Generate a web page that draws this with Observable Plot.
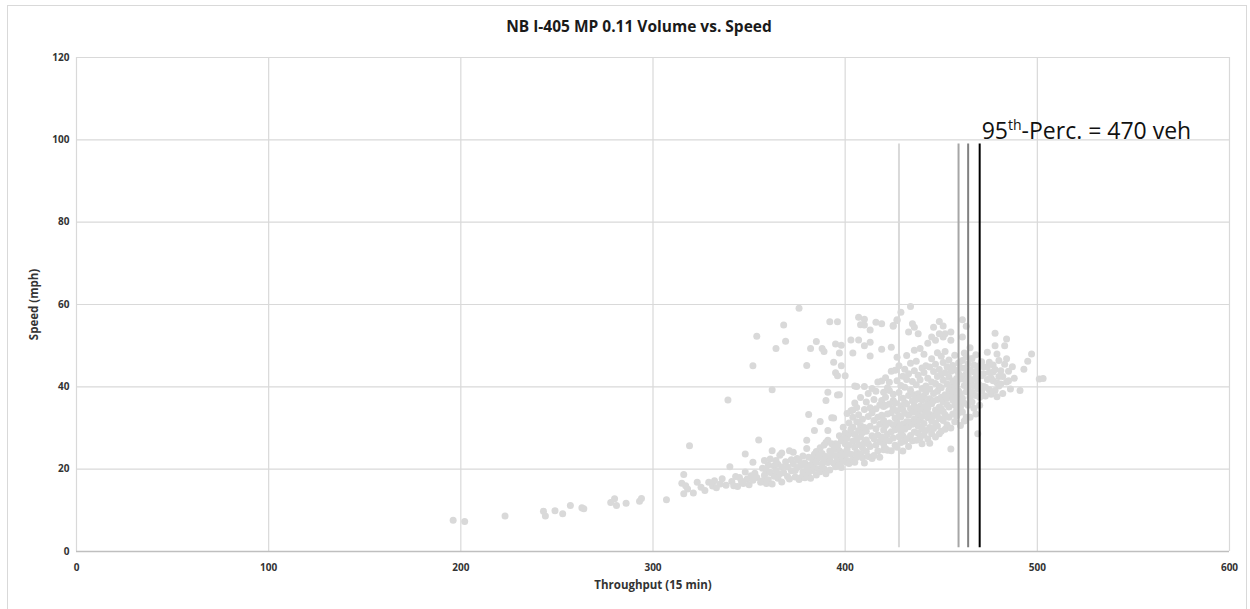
<!DOCTYPE html>
<html>
<head>
<meta charset="utf-8">
<script src="https://cdn.jsdelivr.net/npm/d3@7"></script>
<script src="https://cdn.jsdelivr.net/npm/@observablehq/plot@0.6"></script>
<style>
  html, body { margin: 0; padding: 0; background: #fff; }
  #wrap { position: relative; width: 1250px; height: 609px; overflow: hidden; font-family: "Open Sans", sans-serif; }
  #frame { position: absolute; left: 7px; top: 5px; width: 1240px; height: 620px; border: 1px solid #d9d9d9; box-sizing: border-box; }
  #title { position: absolute; left: 0; top: 15px; width: 1278px; text-align: center; font-size: 15.5px; font-weight: bold; color: #1a1a1a; }
  #chart { position: absolute; left: 0; top: 45px; }
</style>
</head>
<body>
<div id="wrap">
  <div id="frame"></div>
  <div id="title">NB I-405 MP 0.11 Volume vs. Speed</div>
  <div id="chart"></div>
</div>
<script>
// ---- Data (throughput per 15 min, speed mph) ----
const xTicks = [0, 100, 200, 300, 400, 500, 600];
const yTicks = [0, 20, 40, 60, 80, 100, 120];
const xTitle = "Throughput (15 min)";
const yTitle = "Speed (mph)";
const percentileValues = [428, 459, 464, 470];
const annotationLabel = "95th-Perc. = 470 veh";
const annotationValue = 470;

const lowTail = [[196,7.6],[202,7.3],[223,8.6],[243,9.8],[244,8.6],[249,9.9],[253,9.2],[257,11.2],[263,10.6],[264,10.4],[278,11.9],[280,12.8],[281,11.2],[286,11.7],[293,12.2],[294,12.9],[307,12.6],[316,18.7],[317,16],[315,16.6],[318,15.2],[316,14],[319,25.7],[321,14.2],[323,16.8],[325,15.6],[327,14.8],[329,16.8],[332,17.2]];

const band330 = [[331,15.9],[333,15.5],[335,16.4],[336,17.7],[338,16.1],[339,36.8],[340,20.6],[341,17],[342,16],[343,18.2],[344,15.8],[345,18],[346,17.1],[347,16.5],[348,19.3],[348,23.7],[349,17.6],[350,16.2],[351,18.4],[352,21.7],[352,17.3],[352,45.1],[353,19],[354,18],[354,52.3],[355,27.1],[356,16.8],[357,17.2],[357,20.2],[358,22.1],[358,18.5],[359,16.5],[359,19.6],[360,21]];

const band360 = [[360,17.4],[361,19.2],[361,22.5],[362,16.4],[362,24.5],[362,39.3],[363,18.3],[363,20.8],[364,19.7],[364,22.1],[364,49.3],[365,17.8],[365,21.2],[366,18.9],[366,23.4],[367,20.5],[367,16.9],[367,23.9],[368,55],[368,19.1],[369,51.1],[369,21.8],[370,20.5],[370,18.2],[371,24.5],[371,17.6],[372,22.3],[372,19.6],[373,21.3],[373,24.1],[374,19.7],[374,18.1],[375,22.6],[375,20.4],[376,59.1],[376,22.1],[376,17.5],[377,18],[377,20.9],[378,23.2],[378,19.3],[379,21.5],[379,17.9],[380,27],[380,25],[380,20.5],[380,45.2],[380,18.7]];

const band380 = [[381,33.3],[381,22.9],[381,19.2],[382,49.3],[382,21.1],[382,17.8],[383,22.5],[383,19.7],[384,29.4],[384,20.3],[384,23.6],[385,51],[385,21.7],[385,24.3],[385,18.6],[386,20.1],[386,22.8],[387,31.6],[387,22.9],[387,19.4],[387,25.2],[388,49.3],[388,21.3],[388,23.8],[389,48.6],[389,20.1],[389,25.9],[389,22.4],[390,36.7],[390,18.9],[390,23.1],[390,26.5],[391,38.7],[391,29.4],[391,27],[391,21.6],[392,55.8],[392,22.1],[392,24.4],[392,19.8],[393,32.5],[393,23.3],[393,26.2],[394,46],[394,32.4],[394,21.5],[394,24.8],[395,50.4],[395,43.4],[395,23.3],[395,26.2],[395,20.6],[396,55.8],[396,42.7],[396,38],[396,22.4],[396,25.7],[397,48.2],[397,38.1],[397,24.5],[397,21.2],[397,28.1],[398,45.1],[398,50.1],[398,23.4],[398,26.9],[398,20.4],[399,27.4],[399,24],[399,22.1],[399,30.2],[400,26.2],[400,42.7],[400,23.5],[400,21.8],[400,28.8]];

const band400 = [[401,22.1],[401,24.8],[401,27.5],[401,33.5],[402,28.6],[402,21.4],[402,25.9],[402,31.2],[403,34.2],[403,51.4],[403,23.6],[403,29.7],[404,30.2],[404,48.2],[404,22.3],[404,26.8],[404,32.6],[404,34.4],[405,25.3],[405,40.2],[405,21.7],[405,28.4],[405,36.1],[406,22.9],[406,40.1],[406,35],[406,27.2],[406,24.1],[406,31.5],[407,51.4],[407,56.9],[407,26],[407,29.4],[407,33.2],[408,55.1],[408,23.7],[408,30.6],[408,27.8],[408,37.4],[409,25.2],[409,32.1],[409,28.9],[409,22.8],[410,50],[410,56.4],[410,55],[410,40.1],[410,21.5],[410,26.4],[410,34.5],[410,30.1]];

const band410 = [[411,24.3],[411,29.2],[411,36.3],[411,27.1],[412,32.8],[412,23.1],[412,38.4],[412,26.2],[413,53.8],[413,50.8],[413,47.5],[413,30.4],[413,34.9],[413,25.5],[414,28.1],[414,22.6],[414,33.7],[414,39.6],[415,23.3],[415,27.4],[415,31.8],[415,36.9],[416,55.7],[416,38.9],[416,34.7],[416,25.9],[416,29.8],[417,24.4],[417,32.6],[417,28.3],[417,41.2],[418,26.7],[418,30.9],[418,35.6],[418,22.9],[419,55.3],[419,49.1],[419,41.4],[419,36.7],[419,27.8],[419,33.1],[420,38.7],[420,24.7],[420,29.5],[420,31.9],[420,26.1],[420,35.2]];

const band420 = [[421,37.5],[421,35.5],[421,42.2],[421,27.3],[421,30.6],[421,25],[422,33.4],[422,28.5],[422,39.8],[422,24.6],[423,41.1],[423,39.1],[423,31.2],[423,26.9],[423,35.8],[424,49.6],[424,24.5],[424,29.1],[424,33.7],[424,43.8],[425,36.7],[425,34.7],[425,54.9],[425,54.7],[425,27.6],[425,30.8],[425,38.2],[426,44],[426,25.8],[426,32.4],[426,29.6],[426,36.1],[427,47.2],[427,56.1],[427,56.3],[427,25.3],[427,31.1],[427,41.5],[427,34.2],[428,27.9],[428,33],[428,38.6],[428,30.2],[428,45.1],[429,58.1],[429,26.5],[429,35.4],[429,29.3],[429,40.3],[429,32.7],[430,24.4],[430,37.2],[430,28.1],[430,42.6],[430,34.5],[430,31]];

const band430 = [[431,26.8],[431,33.6],[431,39.9],[431,29.7],[431,44.3],[431,36.2],[432,31.5],[432,27.4],[432,35.8],[432,41.8],[432,47.6],[433,53.3],[433,25.5],[433,30.3],[433,37.9],[433,33.1],[433,43.2],[434,59.5],[434,28.2],[434,34.7],[434,39.2],[434,31.4],[434,45.7],[435,55.3],[435,26.9],[435,36.6],[435,30.9],[435,41.3],[435,33.8],[436,54.5],[436,29],[436,38.1],[436,43.9],[436,32.2],[436,35.4],[436,48.9],[437,27],[437,31.7],[437,36.9],[437,40.5],[437,34.1],[437,46.2],[438,52.9],[438,28.7],[438,33.2],[438,38.3],[438,42.8],[438,30.4],[439,27.6],[439,35.3],[439,41.7],[439,31.9],[439,37.4],[439,49.3],[440,29.8],[440,34.5],[440,39.6],[440,44.6],[440,32.8],[440,36.8],[440,26.2]];

const band440 = [[441,31.1],[441,37.8],[441,43.5],[441,28.3],[441,35.2],[441,47.9],[442,33.9],[442,40.2],[442,29.4],[442,45.1],[442,38.7],[443,27.3],[443,32.5],[443,36.4],[443,42.1],[443,50.6],[443,34.8],[444,26.3],[444,30.1],[444,39.5],[444,44.8],[444,37.1],[444,33.3],[445,52.1],[445,35.9],[445,41.2],[445,31.7],[445,28.6],[445,46.8],[446,54.5],[446,38.4],[446,33],[446,43.7],[446,29.9],[446,36.6],[447,51.3],[447,27.8],[447,34.4],[447,40.8],[447,45.5],[447,31.2],[448,36.9],[448,42.5],[448,30.5],[448,48.3],[448,38.9],[448,33.6],[449,55.9],[449,52.9],[449,28.6],[449,35.1],[449,40.1],[449,44.2],[449,32.3],[450,37.5],[450,29.2],[450,43],[450,34.7],[450,47.4],[450,39.8]];

const band450 = [[451,54.8],[451,52.1],[451,31.8],[451,36.3],[451,41.6],[451,45.9],[451,34],[452,52.9],[452,38.1],[452,29.7],[452,43.4],[452,33.2],[452,48.6],[453,35.7],[453,40.7],[453,30.8],[453,44.9],[453,37.3],[454,32.6],[454,39.2],[454,42.3],[454,46.5],[454,35.1],[455,51.3],[455,53.3],[455,24.9],[455,30],[455,37.9],[455,43.8],[455,40],[456,33.4],[456,36.8],[456,41.4],[456,45.2],[456,38.6],[457,31.5],[457,39.9],[457,44.1],[457,35.6],[457,47.7],[458,34.3],[458,42],[458,37.5],[458,40.8],[458,32.9],[459,36.2],[459,43.3],[459,39],[459,45.8],[459,33.7],[460,30.6],[460,38.4],[460,41.9],[460,44.7],[460,35]];

const band460 = [[461,56.3],[461,52.1],[461,37.2],[461,42.6],[461,46.4],[461,33.9],[462,40.3],[462,44.5],[462,36],[462,48.2],[462,31.7],[463,54.7],[463,32.6],[463,38.8],[463,43.1],[463,41.5],[463,47.3],[464,35.5],[464,39.7],[464,45.6],[464,42.8],[465,32.6],[465,37.4],[465,44],[465,40.9],[465,49.5],[466,36.3],[466,41.7],[466,46.9],[466,38.7],[467,34.8],[467,43.6],[467,40.2],[467,45.3],[468,33.4],[468,37.9],[468,42.2],[468,47.8],[469,28.6],[469,39.5],[469,44.4],[469,41.1],[470,35.5],[470,37.5],[470,43.2],[470,45.2],[470,40.4]];

const band470 = [[471,38.9],[471,42.7],[471,46.1],[472,43.2],[472,40.1],[472,44.9],[473,39.9],[473,37.8],[474,48.4],[474,44.8],[474,41.8],[475,46],[475,39.3],[475,43.5],[476,38.2],[476,42.1],[477,41.5],[477,43.6],[477,45.3],[478,53],[478,50],[478,39.1],[478,44.2],[479,48],[479,41],[479,37.6],[480,46.4],[480,42.5],[480,40.2],[481,40.7],[481,43.9],[482,42.5],[482,38.4],[483,50],[483,45.5],[484,51.6],[484,46.8],[484,41.2],[485,41.5],[485,43.8],[486,39.5],[487,44.9],[488,42.1]];

const highTail = [[491,39.1],[493,44.3],[495,46.2],[497,48],[501,41.9],[503,42]];

// ---- Build ----
const observations = [...lowTail, ...band330, ...band360, ...band380, ...band400, ...band410,
  ...band420, ...band430, ...band440, ...band450, ...band460, ...band470, ...highTail]
  .map(([throughput, speed]) => ({throughput, speed}));

const lineColors = ["#d9d9d9", "#a6a6a6", "#808080", "#000000"];

const plot = Plot.plot({
  width: 1250,
  height: 564,
  marginLeft: 76,
  marginRight: 21,
  marginTop: 12,
  marginBottom: 58,
  x: {domain: [0, 600]},
  y: {domain: [0, 120]},
  style: {fontFamily: "Open Sans, sans-serif", fontSize: "10px", fontWeight: "bold", color: "#333", background: "transparent"},
  marks: [
    Plot.gridX(xTicks, {stroke: "#d9d9d9", strokeOpacity: 1, strokeWidth: 1.2}),
    Plot.gridY(yTicks, {stroke: "#d9d9d9", strokeOpacity: 1, strokeWidth: 1.2}),
    Plot.ruleY([0], {stroke: "#bfbfbf", strokeWidth: 1.3}),
    Plot.dot(observations, {x: "throughput", y: "speed", r: 3.5, fill: "#d9d9d9", stroke: null}),
    ...percentileValues.map((v, i) =>
      Plot.ruleX([v], {y1: 0.9, y2: 99, stroke: lineColors[i], strokeWidth: 2})),
    Plot.axisX(xTicks, {tickSize: 0, tickPadding: 12, label: null, fontWeight: "bold"}),
    Plot.axisY(yTicks, {tickSize: 0, tickPadding: 7, label: null, fontWeight: "bold"}),
    Plot.text([xTitle], {frameAnchor: "bottom", textAnchor: "middle", dy: 37, fontSize: 11.5, fontWeight: "bold", fill: "#333"}),
    Plot.text([yTitle], {frameAnchor: "left", textAnchor: "middle", dx: -42, rotate: -90, fontSize: 11.5, fontWeight: "bold", fill: "#333"}),
    Plot.text([annotationLabel], {x: () => annotationValue, y: () => 100.2, textAnchor: "start", lineAnchor: "bottom", dx: 2, fontSize: 23, fontWeight: "normal", fill: "#111"})
  ]
});

document.getElementById("chart").appendChild(plot);

// superscript "th" in annotation
d3.select(plot).selectAll("text").filter(function() { return this.textContent === annotationLabel; })
  .each(function() {
    const t = d3.select(this);
    t.text(null);
    t.append("tspan").text("95");
    t.append("tspan").attr("dy", "-9").attr("font-size", 14).text("th");
    t.append("tspan").attr("dy", "9").text("-Perc. = 470 veh");
  });
</script>
</body>
</html>
